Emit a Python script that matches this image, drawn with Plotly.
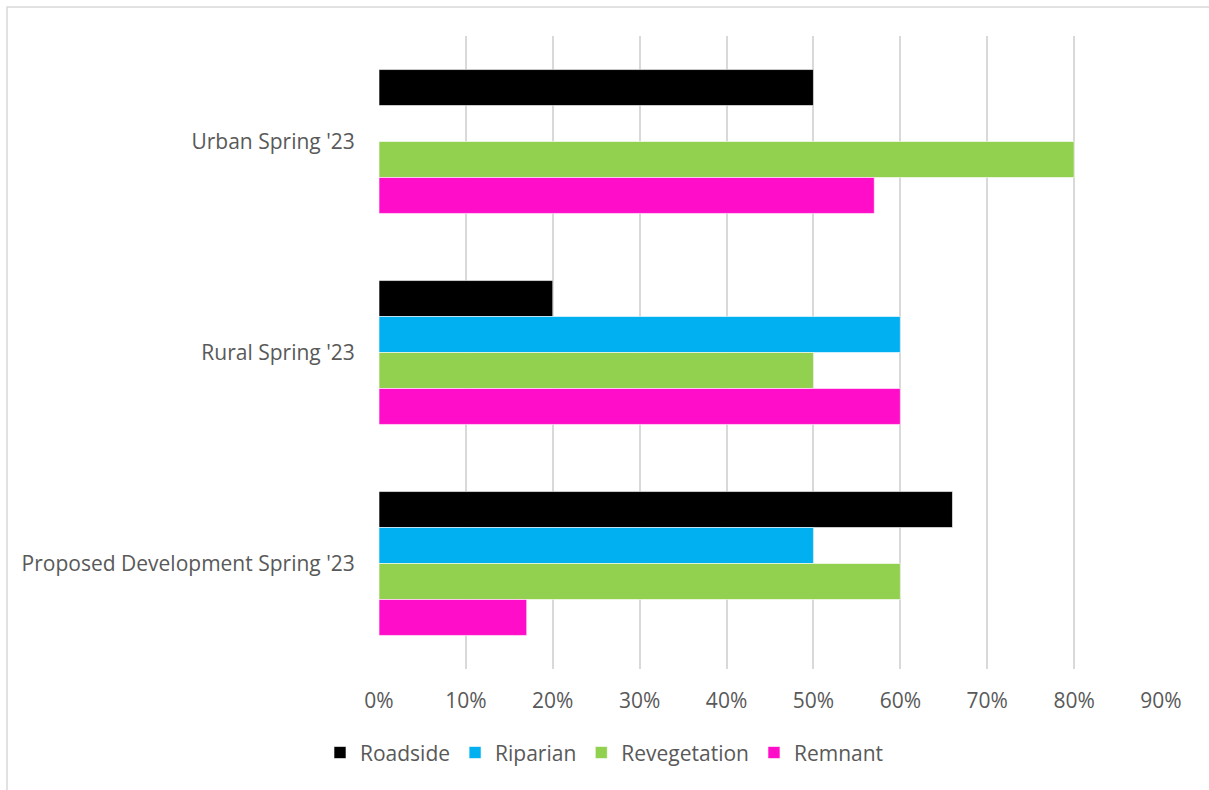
import plotly.graph_objects as go

# Site groups, top to bottom
categories = ["Urban Spring '23", "Rural Spring '23", "Proposed Development Spring '23"]

# Share of sites (%) per habitat type
roadside = [50, 20, 66]
riparian = [None, 60, 50]
revegetation = [80, 50, 60]
remnant = [57, 60, 17]

tick_vals = [0, 10, 20, 30, 40, 50, 60, 70, 80, 90]
tick_text = ["0%", "10%", "20%", "30%", "40%", "50%", "60%", "70%", "80%", "90%"]

series = [
    ("Roadside", roadside, "#000000"),
    ("Riparian", riparian, "#00B0F0"),
    ("Revegetation", revegetation, "#92D050"),
    ("Remnant", remnant, "#FF0DC8"),
]

FONT = "Open Sans"
GREY = "#595959"
SIZE = 21

# plot-area geometry in pixels
W, H = 1209, 790
L, R, T, B = 379, 48, 36, 121
PW, PH = W - L - R, H - T - B

fig = go.Figure()
for name, vals, color in series:
    fig.add_trace(go.Bar(
        y=categories, x=vals, name=name, orientation="h",
        marker=dict(color=color, line=dict(width=0.6, color="white")),
    ))

fig.update_layout(
    width=W, height=H,
    paper_bgcolor="white", plot_bgcolor="white",
    margin=dict(l=L, r=R, t=T, b=B),
    barmode="group", bargap=0.318, bargroupgap=0,
    font=dict(family=FONT, size=SIZE, color=GREY),
    showlegend=True,
    legend=dict(
        orientation="h", xref="container", yref="container",
        x=0.5, xanchor="center", y=0.047, yanchor="middle",
        font=dict(family=FONT, size=SIZE, color=GREY),
        itemwidth=30, traceorder="normal", itemclick=False,
    ),
    xaxis=dict(
        range=[0, 90], tickvals=tick_vals, ticktext=tick_text,
        showgrid=True, gridcolor="#d9d9d9", gridwidth=1.5,
        zeroline=False, showline=False,
        ticks="outside", ticklen=13, tickcolor="rgba(0,0,0,0)",
        tickfont=dict(family=FONT, size=SIZE, color=GREY),
    ),
    yaxis=dict(
        autorange="reversed", showgrid=False, zeroline=False, showline=False,
        ticks="outside", ticklen=19, tickcolor="rgba(0,0,0,0)",
        tickfont=dict(family=FONT, size=SIZE, color=GREY),
    ),
    shapes=[dict(
        type="rect", xref="paper", yref="paper",
        x0=(7 - L) / PW, x1=(1230 - L) / PW,
        y0=(H - B - 800) / PH, y1=(H - B - 7) / PH,
        line=dict(color="#d9d9d9", width=1.5), fillcolor="rgba(0,0,0,0)",
        layer="below",
    )],
)

fig.write_html("out.html")
